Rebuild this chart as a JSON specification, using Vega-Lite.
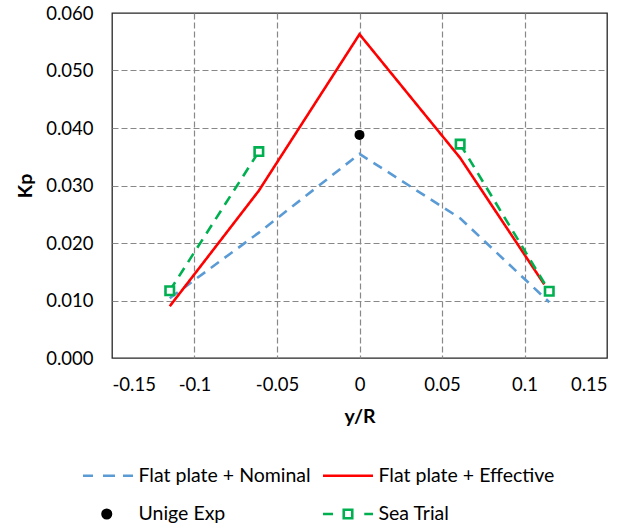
{
  "$schema": "https://vega.github.io/schema/vega-lite/v6.json",
  "width": 495,
  "height": 345,
  "autosize": "none",
  "padding": {"left": 112, "top": 13, "right": 33, "bottom": 172},
  "background": "white",
  "config": {
    "view": {"stroke": "#262626", "strokeWidth": 1.3},
    "font": "Lato"
  },
  "datasets": {
    "lines": [
      {"series": "Flat plate + Nominal", "seg": "A", "yR": -0.115, "Kp": 0.0104},
      {"series": "Flat plate + Nominal", "seg": "A", "yR": -0.061, "Kp": 0.0218},
      {"series": "Flat plate + Nominal", "seg": "A", "yR": 0.0, "Kp": 0.0355},
      {"series": "Flat plate + Nominal", "seg": "A", "yR": 0.061, "Kp": 0.0243},
      {"series": "Flat plate + Nominal", "seg": "A", "yR": 0.115, "Kp": 0.0097},
      {"series": "Flat plate + Effective", "seg": "A", "yR": -0.115, "Kp": 0.0090},
      {"series": "Flat plate + Effective", "seg": "A", "yR": -0.061, "Kp": 0.0291},
      {"series": "Flat plate + Effective", "seg": "A", "yR": 0.0, "Kp": 0.0563},
      {"series": "Flat plate + Effective", "seg": "A", "yR": 0.061, "Kp": 0.0348},
      {"series": "Flat plate + Effective", "seg": "A", "yR": 0.112, "Kp": 0.0128},
      {"series": "Sea Trial", "seg": "L", "yR": -0.115, "Kp": 0.0117},
      {"series": "Sea Trial", "seg": "L", "yR": -0.061, "Kp": 0.0359},
      {"series": "Sea Trial", "seg": "R", "yR": 0.061, "Kp": 0.0372},
      {"series": "Sea Trial", "seg": "R", "yR": 0.115, "Kp": 0.0116}
    ],
    "unige": [
      {"series": "Unige Exp", "yR": 0.0, "Kp": 0.0388}
    ]
  },
  "layer": [
    {
      "data": {"name": "lines"},
      "mark": {"type": "line", "strokeWidth": 2.6, "strokeCap": "butt"},
      "encoding": {
        "x": {
          "field": "yR", "type": "quantitative",
          "scale": {"domain": [-0.15, 0.15], "nice": false, "zero": false},
          "axis": {
            "values": [-0.15, -0.1, -0.05, 0, 0.05, 0.1, 0.15],
            "labelExpr": "'' + datum.value",
            "grid": true, "gridDash": [6, 3], "gridColor": "#888888", "gridWidth": 1.2,
            "gridOpacity": {"condition": {"test": "abs(datum.value) > 0.14", "value": 0}, "value": 1},
            "ticks": false, "domain": false,
            "labelFont": "Lato", "labelFontSize": 18.5, "labelColor": "black", "labelPadding": 17,
            "title": "y/R", "titleFont": "Lato", "titleFontSize": 19.5, "titleFontWeight": "bold", "titleColor": "black", "titlePadding": 14
          }
        },
        "y": {
          "field": "Kp", "type": "quantitative",
          "scale": {"domain": [0, 0.06], "nice": false},
          "axis": {
            "values": [0, 0.01, 0.02, 0.03, 0.04, 0.05, 0.06],
            "format": ".3f",
            "grid": true, "gridDash": [6, 3], "gridColor": "#888888", "gridWidth": 1.2,
            "gridOpacity": {"condition": {"test": "datum.value < 0.001 || datum.value > 0.059", "value": 0}, "value": 1},
            "ticks": false, "domain": false,
            "labelFont": "Lato", "labelFontSize": 18.5, "labelColor": "black", "labelPadding": 19,
            "title": "Kp", "titleFont": "Lato", "titleFontSize": 19.5, "titleFontWeight": "bold", "titleColor": "black", "titlePadding": 10
          }
        },
        "detail": {"field": "seg"},
        "color": {
          "field": "series", "type": "nominal",
          "scale": {
            "domain": ["Flat plate + Nominal", "Flat plate + Effective", "Unige Exp", "Sea Trial"],
            "range": ["#5B9BD5", "#FF0000", "#000000", "#00B050"]
          },
          "legend": {
            "orient": "none", "legendX": -30.5, "legendY": 452.7,
            "direction": "horizontal",
            "columns": 2, "title": null, "padding": 0,
            "symbolSize": 2500, "symbolStrokeWidth": 2.6, "symbolOffset": 0,
            "labelFont": "Lato", "labelFontSize": 19.5, "labelColor": "black", "labelOffset": 4, "labelLimit": 400,
            "columnPadding": 10, "rowPadding": 18.3, "clipHeight": 20,
            "encode": {
              "symbols": {
                "update": {
                  "shape": {"signal": "datum.value === 'Flat plate + Nominal' ? 'M-1,0H-0.6M-0.2,0H0.28M0.6,0H1' : datum.value === 'Flat plate + Effective' ? 'M-1,0H1' : datum.value === 'Unige Exp' ? 'M-0.22,0A0.17,0.17,0,1,0,0.12,0A0.17,0.17,0,1,0,-0.22,0Z' : 'M-1,0H-0.6M-0.17,-0.17H0.17V0.17H-0.17ZM0.65,0H1'"},
                  "fill": {"signal": "datum.value === 'Unige Exp' ? 'black' : 'white'"},
                  "stroke": {"scale": "color", "field": "value"},
                  "strokeWidth": {"value": 2.6},
                  "strokeDash": {"value": []},
                  "opacity": {"value": 1}
                }
              }
            }
          }
        },
        "strokeDash": {
          "field": "series", "type": "nominal",
          "scale": {
            "domain": ["Flat plate + Nominal", "Flat plate + Effective", "Sea Trial"],
            "range": [[10, 7], [1, 0], [10, 7]]
          },
          "legend": null
        }
      }
    },
    {
      "data": {"name": "unige"},
      "mark": {"type": "point", "shape": "circle", "filled": true, "color": "black", "size": 100, "opacity": 1},
      "encoding": {
        "x": {"field": "yR", "type": "quantitative"},
        "y": {"field": "Kp", "type": "quantitative"}
      }
    },
    {
      "data": {"name": "lines"},
      "transform": [{"filter": "datum.series === 'Sea Trial'"}],
      "mark": {"type": "point", "shape": "square", "filled": false, "fill": "white", "fillOpacity": 1, "stroke": "#00B050", "strokeWidth": 2.6, "size": 72, "opacity": 1},
      "encoding": {
        "x": {"field": "yR", "type": "quantitative"},
        "y": {"field": "Kp", "type": "quantitative"}
      }
    }
  ]
}
